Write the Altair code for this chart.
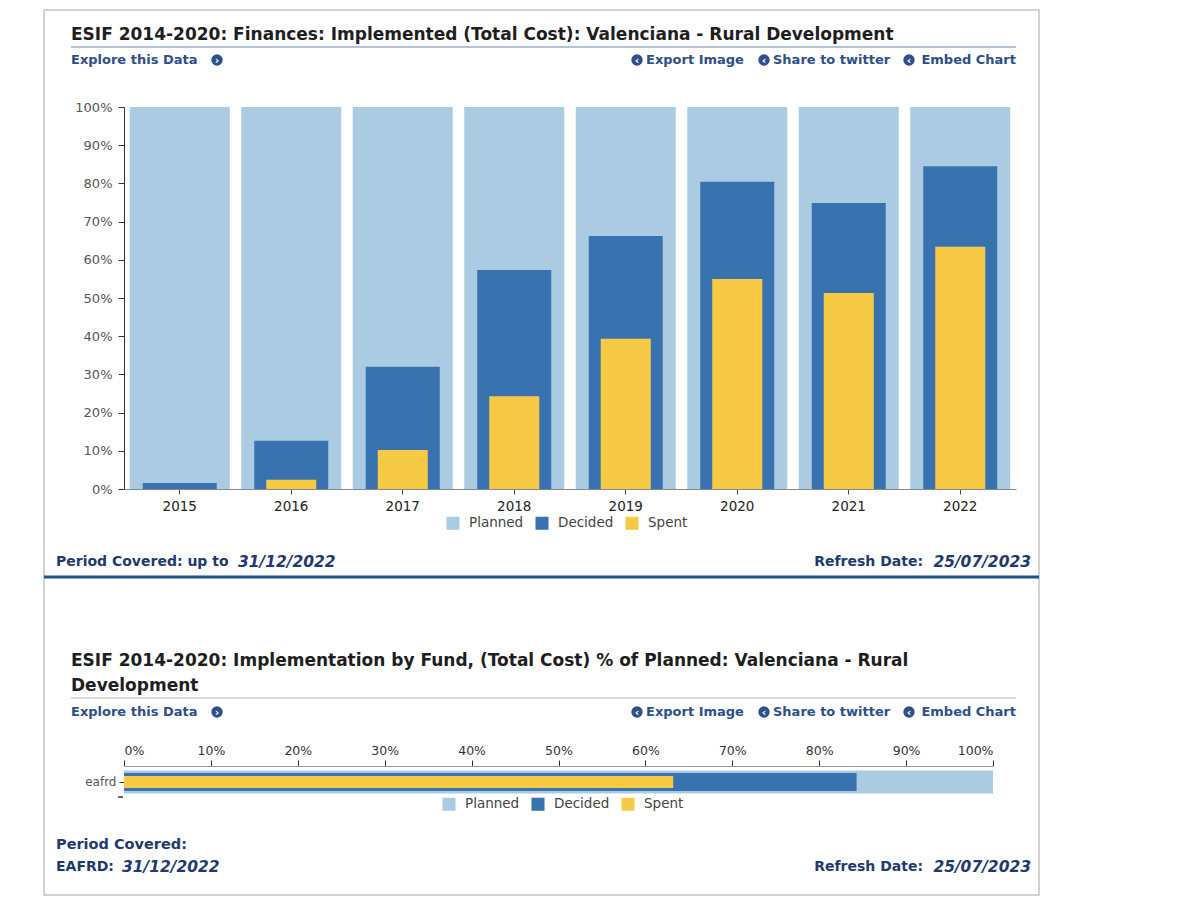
import altair as alt
import pandas as pd

# ---------------- data ----------------
years = ["2015", "2016", "2017", "2018", "2019", "2020", "2021", "2022"]
planned = [1.0, 1.0, 1.0, 1.0, 1.0, 1.0, 1.0, 1.0]
decided = [0.016, 0.126, 0.320, 0.573, 0.662, 0.804, 0.749, 0.845]
spent = [0.0, 0.024, 0.102, 0.243, 0.393, 0.550, 0.513, 0.634]

funds = ["eafrd"]
fund_planned = [1.0]
fund_decided = [0.843]
fund_spent = [0.632]

series = ["Planned", "Decided", "Spent"]
colors = ["#abcbe3", "#3873b0", "#f6ca45"]
pct_ticks = [0, 0.1, 0.2, 0.3, 0.4, 0.5, 0.6, 0.7, 0.8, 0.9, 1.0]

FONT = "DejaVu Sans"
LINK = "#2d4f8a"
FOOT = "#1f3a6e"

df_top = pd.DataFrame({
    "year": years * 3,
    "series": ["Planned"] * len(years) + ["Decided"] * len(years) + ["Spent"] * len(years),
    "value": planned + decided + spent,
})
df_bot = pd.DataFrame({
    "fund": funds * 3,
    "series": ["Planned"] * len(funds) + ["Decided"] * len(funds) + ["Spent"] * len(funds),
    "value": fund_planned + fund_decided + fund_spent,
})


def txt(s, x, y, size=12, weight="bold", color=LINK, align="left", style="normal"):
    return alt.Chart(pd.DataFrame({"t": [s]})).mark_text(
        align=align, baseline="middle", fontSize=size, fontWeight=weight,
        color=color, font=FONT, fontStyle=style
    ).encode(x=alt.value(x), y=alt.value(y), text="t:N")


def icon(x, y, glyph):
    dot = alt.Chart(pd.DataFrame({"a": [0]})).mark_point(
        shape="circle", filled=True, size=130, color=LINK, opacity=1).encode(
        x=alt.value(x), y=alt.value(y))
    chev = alt.Chart(pd.DataFrame({"t": [glyph]})).mark_text(
        align="center", baseline="middle", fontSize=11, fontWeight="bold", color="white", font=FONT
    ).encode(x=alt.value(x), y=alt.value(y + 0.5), text="t:N")
    return [dot, chev]


def hrule(x1, x2, y, color, w):
    return alt.Chart(pd.DataFrame({"a": [0]})).mark_rule(color=color, strokeWidth=w).encode(
        x=alt.value(x1), x2=alt.value(x2), y=alt.value(y))


def links(y):
    # plot-relative positions (plot origin at page x=123)
    out = [txt("Explore this Data", -53, y, size=13)]
    out += icon(93, y, "›")
    out += icon(513, y, "‹")
    out.append(txt("Export Image", 522, y, size=13))
    out += icon(640, y, "‹")
    out.append(txt("Share to twitter", 649, y, size=13))
    out += icon(785, y, "‹")
    out.append(txt("Embed Chart", 892, y, size=13, align="right"))
    return out


def legend(lx, ly):
    return alt.Legend(
        orient="none", legendX=lx, legendY=ly, direction="horizontal", title=None,
        symbolType="square", symbolSize=170, symbolStrokeWidth=0,
        labelFontSize=13.5, labelFont=FONT, labelColor="#444", columnPadding=11, labelOffset=9,
    )


# ---------------- top chart ----------------
TW, TH = 892, 382
color_top = alt.Color("series:N", scale=alt.Scale(domain=series, range=colors), legend=legend(322, 409))
x_top = alt.X("year:N", scale=alt.Scale(paddingInner=0.1, paddingOuter=0.05),
              axis=alt.Axis(title=None, labelAngle=0, tickSize=5, labelFontSize=13.5, labelColor="#222",
                            labelFont=FONT, domainColor="#888", tickColor="#444", labelPadding=5))
y_top = alt.Y("value:Q", scale=alt.Scale(domain=[0, 1], nice=False),
              axis=alt.Axis(title=None, format=".0%", values=pct_ticks, tickSize=6, labelFontSize=13,
                            labelColor="#555", labelFont=FONT, domainColor="#333", tickColor="#333",
                            grid=False, labelPadding=6))

base_top = alt.Chart(df_top)
top_planned = base_top.transform_filter("datum.series == 'Planned'").mark_bar(width=100).encode(
    x=x_top, y=y_top, color=color_top)
top_decided = base_top.transform_filter("datum.series == 'Decided'").mark_bar(width=74).encode(
    x=x_top, y=y_top, color=color_top)
top_spent = base_top.transform_filter("datum.series == 'Spent'").mark_bar(width=50).encode(
    x=x_top, y=y_top, color=color_top)

border = alt.Chart(pd.DataFrame({"a": [0]})).mark_rect(
    filled=False, stroke="#c4c4c4", strokeWidth=1.5).encode(
    x=alt.value(-80), x2=alt.value(915), y=alt.value(-97), y2=alt.value(788))

top = alt.layer(
    border,
    top_planned, top_decided, top_spent,
    txt("ESIF 2014-2020: Finances: Implemented (Total Cost): Valenciana - Rural Development",
        -53, -72, size=17, color="#1e1e1e"),
    hrule(-53, 892, -60, "#9aaed0", 1.5),
    *links(-47),
    txt("Period Covered: up to", -68, 455, size=14, color=FOOT),
    txt("31/12/2022", 114, 455, size=15.5, color=FOOT, style="italic"),
    txt("Refresh Date:", 799, 455, size=14, color=FOOT, align="right"),
    txt("25/07/2023", 907, 455, size=15.5, color=FOOT, align="right", style="italic"),
    hrule(-80, 915, 470, "#1f4e8c", 3),
).properties(width=TW, height=TH)

# ---------------- bottom chart ----------------
BW, BH = 869, 32
color_bot = alt.Color("series:N", scale=alt.Scale(domain=series, range=colors), legend=legend(318, 31))
x_bot = alt.X("value:Q", scale=alt.Scale(domain=[0, 1], nice=False),
              axis=alt.Axis(title=None, orient="top", format=".0%", values=pct_ticks, tickSize=6,
                            labelFontSize=12.5, labelColor="#333", labelFont=FONT, domainColor="#999",
                            tickColor="#333", grid=False, labelPadding=3))
y_bot = alt.Y("fund:N", axis=alt.Axis(title=None, tickSize=5, labelFontSize=12, labelColor="#555",
                                       labelFont=FONT, domain=False, tickColor="#333", labelPadding=3))

base_bot = alt.Chart(df_bot)
bot_planned = base_bot.transform_filter("datum.series == 'Planned'").mark_bar(height=23).encode(
    x=x_bot, y=y_bot, color=color_bot)
bot_decided = base_bot.transform_filter("datum.series == 'Decided'").mark_bar(height=18).encode(
    x=x_bot, y=y_bot, color=color_bot)
bot_spent = base_bot.transform_filter("datum.series == 'Spent'").mark_bar(height=12).encode(
    x=x_bot, y=y_bot, color=color_bot)

extra_tick = alt.Chart(pd.DataFrame({"a": [0]})).mark_rule(color="#333", strokeWidth=1.5).encode(
    x=alt.value(-6), x2=alt.value(-1), y=alt.value(31))

bottom = alt.layer(
    bot_planned, bot_decided, bot_spent, extra_tick,
    txt("ESIF 2014-2020: Implementation by Fund, (Total Cost) % of Planned: Valenciana - Rural",
        -53, -105, size=17, color="#1e1e1e"),
    txt("Development", -53, -80, size=17, color="#1e1e1e"),
    hrule(-53, 892, -68, "#d0d0d0", 1.5),
    *links(-54),
    txt("Period Covered:", -68, 79, size=14.5, color=FOOT),
    txt("EAFRD:", -68, 101, size=14, color=FOOT),
    txt("31/12/2022", -2, 101, size=15.5, color=FOOT, style="italic"),
    txt("Refresh Date:", 799, 101, size=14, color=FOOT, align="right"),
    txt("25/07/2023", 907, 101, size=15.5, color=FOOT, align="right", style="italic"),
).properties(width=BW, height=BH)

chart = alt.vconcat(top, bottom, spacing=277, bounds="flush").resolve_scale(
    color="independent").resolve_legend(color="independent").properties(
    padding={"left": 42, "top": 9, "right": 5, "bottom": 5},
    background="white",
).configure_view(stroke=None)

chart.save("out.html", embed_options={"renderer": "svg", "actions": False})
